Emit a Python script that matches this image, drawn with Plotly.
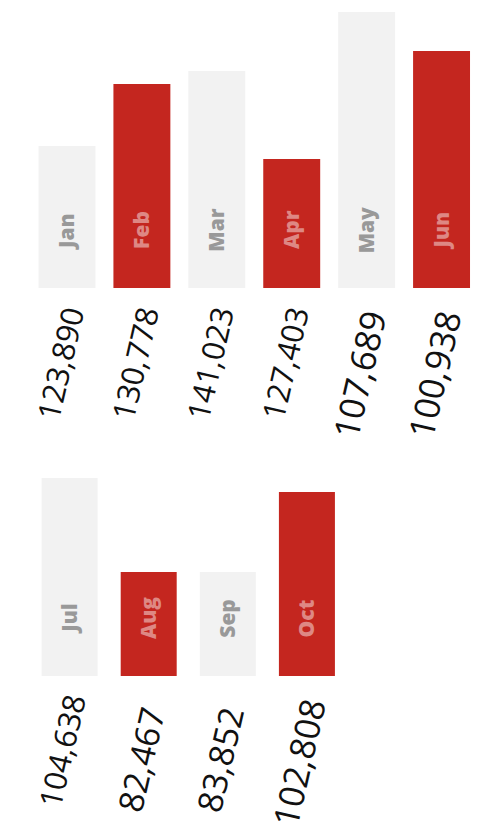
import plotly.graph_objects as go

months_top = ["Jan", "Feb", "Mar", "Apr", "May", "Jun"]
months_bottom = ["Jul", "Aug", "Sep", "Oct"]
bar_top = [142, 204, 217, 129, 276, 237]
bar_bottom = [198, 104, 104, 184]
values_top = [123890, 130778, 141023, 127403, 107689, 100938]
values_bottom = [104638, 82467, 83852, 102808]
label_sizes_top = [31, 31, 31, 31, 35, 35]
label_sizes_bottom = [31, 34, 34, 35]

GRAY = "#f2f2f2"
RED = "#c4261f"
GRAY_TXT = "#999999"
RED_TXT = "#de8884"
FONT = "Exo 2, Open Sans, sans-serif"

fig = go.Figure()

def colors(n):
    return [GRAY if i % 2 == 0 else RED for i in range(n)]

fig.add_trace(go.Bar(x=months_top, y=bar_top, marker=dict(color=colors(6), line=dict(width=0)),
                     width=0.76, xaxis="x", yaxis="y", hoverinfo="skip"))
fig.add_trace(go.Bar(x=months_bottom, y=bar_bottom, marker=dict(color=colors(4), line=dict(width=0)),
                     width=0.708, xaxis="x2", yaxis="y2", hoverinfo="skip"))

ann = []
for xr, yr, months, vals, sizes in [("x", "y", months_top, values_top, label_sizes_top),
                                    ("x2", "y2", months_bottom, values_bottom, label_sizes_bottom)]:
    for i, (m, v, s) in enumerate(zip(months, vals, sizes)):
        ann.append(dict(x=m, y=0, xref=xr, yref=yr, text=m, showarrow=False,
                        textangle=-90, yshift=58, xanchor="center", yanchor="middle",
                        font=dict(family=FONT, size=21, color=GRAY_TXT if i % 2 == 0 else RED_TXT,
                                  weight=800)))
        ann.append(dict(x=m, y=0, xref=xr, yref=yr, text=f"{v:,}", showarrow=False,
                        textangle=-77, yshift=-(75 + (s - 31) * 3), xshift=-6,
                        xanchor="center", yanchor="middle",
                        font=dict(family=FONT, size=s, color="#111111", weight="normal")))

ax = dict(showgrid=False, zeroline=False, showticklabels=False, showline=False, ticks="", fixedrange=True)
fig.update_layout(
    width=472, height=815, margin=dict(l=0, r=0, t=0, b=0),
    paper_bgcolor="white", plot_bgcolor="white", showlegend=False,
    xaxis=dict(ax, domain=[0.0456, 0.9979], range=[-0.5, 5.5]),
    yaxis=dict(ax, domain=[0.6564, 0.9951], range=[0, 276]),
    xaxis2=dict(ax, domain=[0.0467, 0.7171], range=[-0.5, 3.5], anchor="y2"),
    yaxis2=dict(ax, domain=[0.1804, 0.5190], range=[0, 276], anchor="x2"),
    annotations=ann,
)
fig.write_html("out.html")
